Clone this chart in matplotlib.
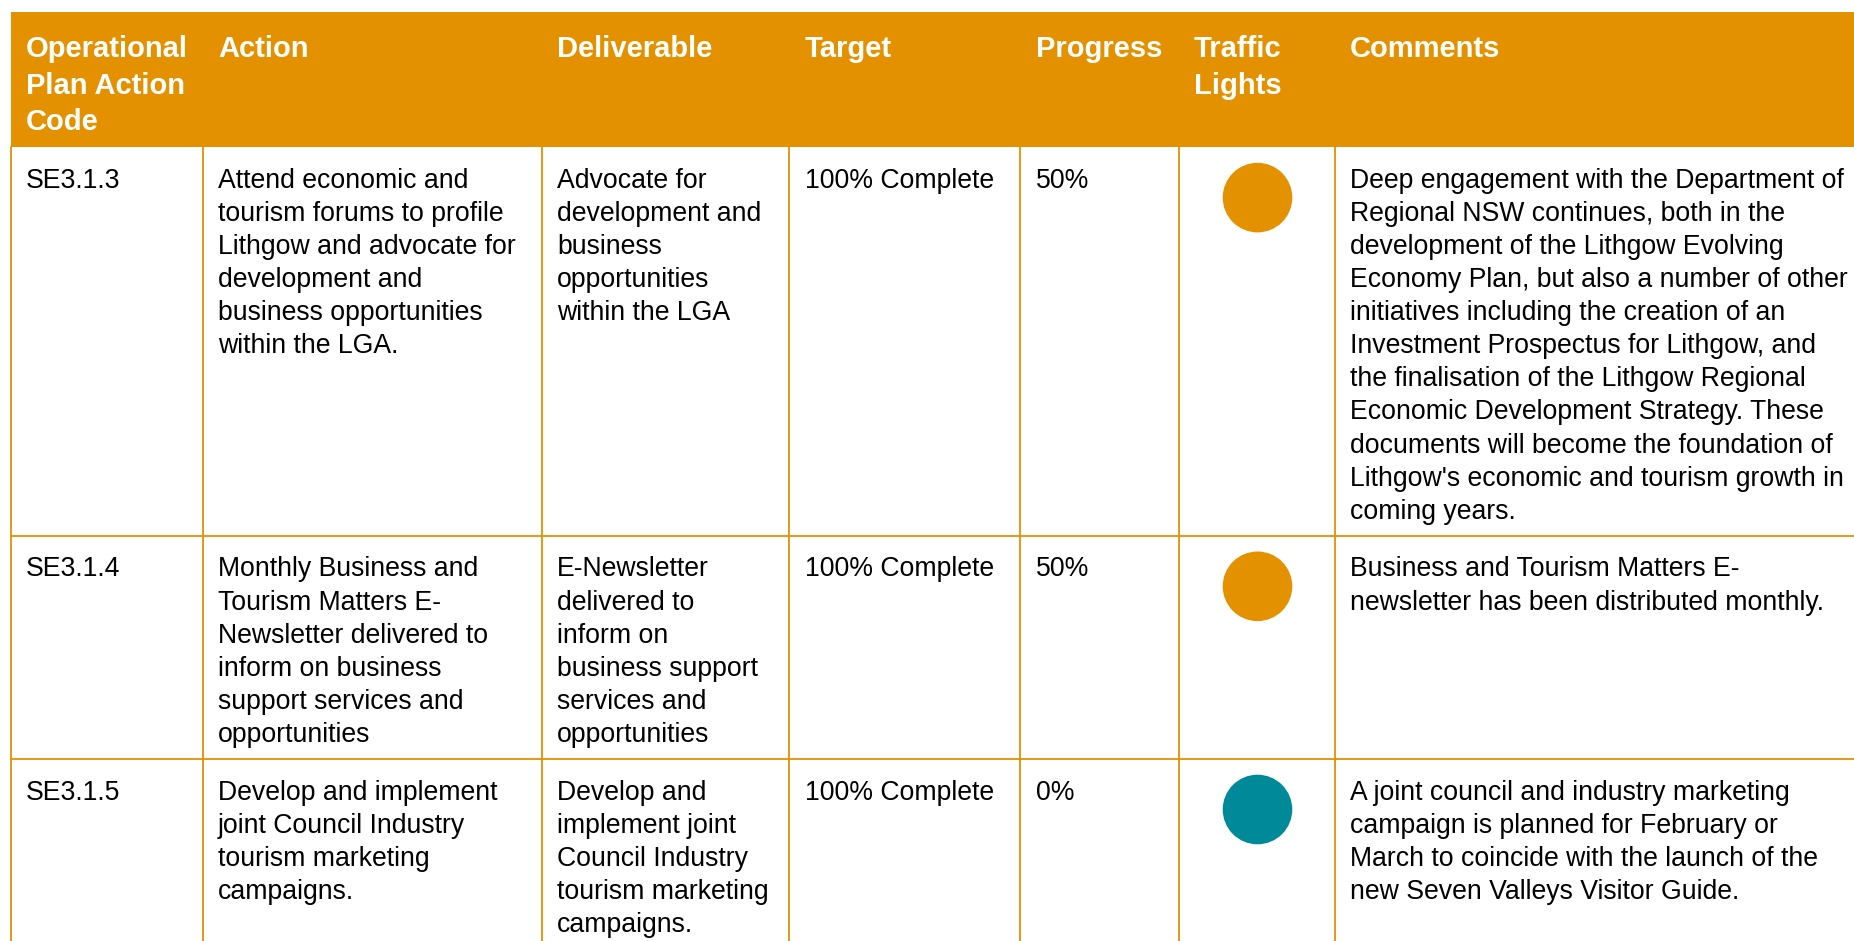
import matplotlib
matplotlib.use("Agg")
import matplotlib.pyplot as plt
from matplotlib.patches import Rectangle, Circle

# ---------------- data ----------------
headers = [["Operational", "Plan Action", "Code"], ["Action"], ["Deliverable"], ["Target"],
           ["Progress"], ["Traffic", "Lights"], ["Comments"]]

codes = ["SE3.1.3", "SE3.1.4", "SE3.1.5"]

actions = [
    ["Attend economic and", "tourism forums to profile", "Lithgow and advocate for",
     "development and", "business opportunities", "within the LGA."],
    ["Monthly Business and", "Tourism Matters E-", "Newsletter delivered to",
     "inform on business", "support services and", "opportunities"],
    ["Develop and implement", "joint Council Industry", "tourism marketing", "campaigns."],
]

deliverables = [
    ["Advocate for", "development and", "business", "opportunities", "within the LGA"],
    ["E-Newsletter", "delivered to", "inform on", "business support", "services and", "opportunities"],
    ["Develop and", "implement joint", "Council Industry", "tourism marketing", "campaigns."],
]

targets = ["100% Complete", "100% Complete", "100% Complete"]
progress = ["50%", "50%", "0%"]
lights = ["amber", "amber", "teal"]

comments = [
    ["Deep engagement with the Department of", "Regional NSW continues, both in the",
     "development of the Lithgow Evolving", "Economy Plan, but also a number of other",
     "initiatives including the creation of an", "Investment Prospectus for Lithgow, and",
     "the finalisation of the Lithgow Regional", "Economic Development Strategy. These",
     "documents will become the foundation of", "Lithgow's economic and tourism growth in",
     "coming years."],
    ["Business and Tourism Matters E-", "newsletter has been distributed monthly."],
    ["A joint council and industry marketing", "campaign is planned for February or",
     "March to coincide with the launch of the", "new Seven Valleys Visitor Guide."],
]

# ---------------- style / layout ----------------
W, H = 1854, 941
ORANGE = "#E49100"
TEAL = "#008A99"
light_colors = {"amber": ORANGE, "teal": TEAL}
FONT = "Liberation Sans"

col_edges = [11.5, 203.5, 542, 789, 1020.5, 1179.5, 1335.5, W + 5]
text_x = [26, 218, 557, 805, 1036, 1194, 1350]
header_top, header_bottom = 12, 147
header_base0, header_step = 57, 36.5
line_step = 33.1
first_off = 40.7
bottom_pad = 17
body_fs = 19.2
head_fs = 21

fig = plt.figure(figsize=(W / 100, H / 100), dpi=100)
ax = fig.add_axes([0, 0, 1, 1])
ax.set_xlim(0, W)
ax.set_ylim(H, 0)
ax.axis("off")

# header band
ax.add_patch(Rectangle((col_edges[0], header_top), W - col_edges[0] + 5,
                       header_bottom - header_top, color=ORANGE, lw=0, zorder=1))
for ci, lines in enumerate(headers):
    for li, t in enumerate(lines):
        ax.text(text_x[ci], header_base0 + li * header_step, t, color="white",
                fontsize=head_fs, fontweight="bold", family=FONT, va="baseline",
                ha="left", zorder=3)

# body rows
y = header_bottom
for r in range(len(codes)):
    cells = [[codes[r]], actions[r], deliverables[r], [targets[r]], [progress[r]], [], comments[r]]
    n = max(len(c) for c in cells)
    h = first_off + (n - 1) * line_step + bottom_pad
    for ci, lines in enumerate(cells):
        for li, t in enumerate(lines):
            ax.text(text_x[ci], y + first_off + li * line_step, t, color="black",
                    fontsize=body_fs, family=FONT, va="baseline", ha="left", zorder=3)
    cx = (col_edges[5] + col_edges[6]) / 2
    ax.add_patch(Circle((cx, y + 50.6), 34.8, color=light_colors[lights[r]], lw=0, zorder=2))
    y += h
    if y < H:
        ax.plot([col_edges[0], W], [y, y], color=ORANGE, lw=1.3, zorder=2)

# vertical grid lines in body
for x in col_edges[:-1]:
    ax.plot([x, x], [header_bottom, H + 5], color=ORANGE, lw=1.3, zorder=2)

fig.savefig("out.png", dpi=100, facecolor="white")
